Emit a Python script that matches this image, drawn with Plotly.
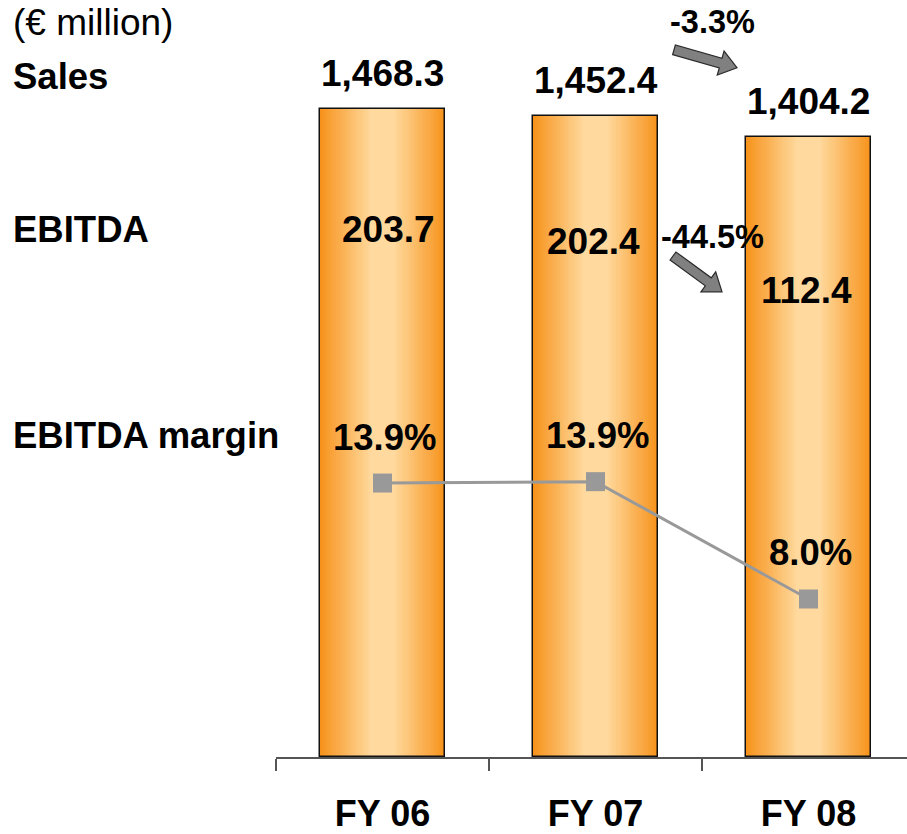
import plotly.graph_objects as go
import math

# ---------------- data ----------------
years = ["FY 06", "FY 07", "FY 08"]
sales = [1468.3, 1452.4, 1404.2]
ebitda = [203.7, 202.4, 112.4]
margin = [13.87, 13.94, 8.0]

# ---------------- layout constants (pixels) ----------------
OFF = 0                      # page body margin (removed by post_script)
W, H = 907 - OFF, 834 - OFF  # figure size
AXIS_Y = 760 - OFF           # x axis position inside figure
LEFT_X = 276 - OFF
L, R, T, B = LEFT_X, 0, 0, H - AXIS_Y
PW, PH = W - L - R, H - T - B
FONT = "Liberation Sans, Arial, Helvetica, sans-serif"
EDGE = (247, 147, 28)
CENTER = (255, 217, 157)
BAR_W = 0.59
N_LAYERS = 30


def px_x(p):
    # p: x coordinate in reference-window pixels
    return (p - OFF - L) / PW


def px_y(p):
    return (H - B - (p - OFF)) / PH


def mix(t):
    t = max(0.0, min(1.0, t / 0.8))
    c = [round(EDGE[i] + (CENTER[i] - EDGE[i]) * t) for i in range(3)]
    return f"rgb({c[0]},{c[1]},{c[2]})"


fig = go.Figure()

# gradient bars built by overlaying narrower bars
for i in range(N_LAYERS):
    frac = 1 - i / N_LAYERS
    fig.add_trace(go.Bar(
        x=years, y=sales, width=BAR_W * frac,
        marker=dict(color=mix(i / N_LAYERS), line=dict(width=0)),
        showlegend=False, hoverinfo="skip",
    ))
# outline on top
fig.add_trace(go.Bar(
    x=years, y=sales, width=BAR_W,
    marker=dict(color="rgba(0,0,0,0)", line=dict(color="#111111", width=1.5)),
    showlegend=False, hoverinfo="skip",
))

# EBITDA margin line
fig.add_trace(go.Scatter(
    x=years, y=margin, yaxis="y2", mode="lines+markers",
    line=dict(color="#999999", width=3),
    marker=dict(symbol="square", size=19, color="#999999"),
    showlegend=False, hoverinfo="skip",
))

ann = []
# left labels
left_labels = [("(€ million)", 23, False, 37), ("Sales", 77, True, 36.5),
               ("EBITDA", 230, True, 36.5), ("EBITDA margin", 437, True, 36.5)]
for txt, y, bold, sz in left_labels:
    ann.append(dict(x=px_x(11), y=px_y(y), xref="paper", yref="paper",
                    text=f"<b>{txt}</b>" if bold else txt, showarrow=False,
                    xanchor="left", yanchor="middle",
                    font=dict(family=FONT, size=sz, color="black")))

# sales labels above bars
for xc, v in zip(years, sales):
    ann.append(dict(x=xc, y=v, xref="x", yref="y", text=f"<b>{v:,.1f}</b>",
                    showarrow=False, yanchor="middle", yshift=35,
                    font=dict(family=FONT, size=37, color="black")))

# EBITDA labels
ebitda_y = [230, 242, 292]
ebitda_dx = [6, -2, -2]
for xc, v, yy, dx in zip(years, ebitda, ebitda_y, ebitda_dx):
    ann.append(dict(x=xc, y=px_y(yy), xref="x", yref="paper", text=f"<b>{v:.1f}</b>",
                    showarrow=False, yanchor="middle", xshift=dx,
                    font=dict(family=FONT, size=37, color="black")))

# margin labels
for xc, v in zip(years, margin):
    ann.append(dict(x=xc, y=v, xref="x", yref="y2", text=f"<b>{v:.1f}%</b>",
                    showarrow=False, yanchor="middle", yshift=46, xshift=2,
                    font=dict(family=FONT, size=36.5, color="black")))

# change labels
sales_chg = (sales[2] / sales[1] - 1) * 100
ebitda_chg = (ebitda[2] / ebitda[1] - 1) * 100
for txt, (xx, yy) in [(f"<b>{sales_chg:.1f}%</b>", (712, 22)),
                      (f"<b>{ebitda_chg:.1f}%</b>", (712, 238))]:
    ann.append(dict(x=px_x(xx), y=px_y(yy), xref="paper", yref="paper", text=txt,
                    showarrow=False, xanchor="center", yanchor="middle",
                    font=dict(family=FONT, size=32.5, color="black")))


def block_arrow(tail, tip, shaft=10, head_w=25, head_l=17):
    (x0, y0), (x1, y1) = tail, tip
    dx, dy = x1 - x0, y1 - y0
    ln = math.hypot(dx, dy)
    ux, uy = dx / ln, dy / ln
    nx, ny = -uy, ux
    bx, by = x1 - ux * head_l, y1 - uy * head_l
    pts = [
        (x0 + nx * shaft / 2, y0 + ny * shaft / 2),
        (bx + nx * shaft / 2, by + ny * shaft / 2),
        (bx + nx * head_w / 2, by + ny * head_w / 2),
        (x1, y1),
        (bx - nx * head_w / 2, by - ny * head_w / 2),
        (bx - nx * shaft / 2, by - ny * shaft / 2),
        (x0 - nx * shaft / 2, y0 - ny * shaft / 2),
    ]
    path = "M " + " L ".join(f"{px_x(px):.5f},{px_y(py):.5f}" for px, py in pts) + " Z"
    return dict(type="path", path=path, xref="paper", yref="paper",
                fillcolor="#808080", line=dict(color="#2a2a2a", width=1.2), layer="above")


shapes = [block_arrow((674, 50), (737, 68)), block_arrow((673, 257), (722, 293))]

fig.update_layout(
    width=W, height=H, autosize=False,
    margin=dict(l=L, r=R, t=T, b=B, pad=0),
    paper_bgcolor="white", plot_bgcolor="white",
    barmode="overlay", bargap=0,
    xaxis=dict(type="category", range=[-0.5, -0.5 + PW / 213.0],
               showline=True, linecolor="#555555", linewidth=1.5,
               ticks="outside", tickson="boundaries", ticklen=12,
               tickcolor="#555555", tickwidth=1.5,
               tickfont=dict(family=FONT, size=36, color="black"),
               tickvals=years, ticktext=[f"<b>{y}</b>" for y in years],
               ticklabelstandoff=24,
               showgrid=False, zeroline=False, fixedrange=True),
    yaxis=dict(range=[0, PH * 2.2555], visible=False, fixedrange=True),
    yaxis2=dict(range=[0, PH / 19.83], overlaying="y", visible=False, fixedrange=True),
    annotations=ann, shapes=shapes, showlegend=False,
)

fig.write_html(
    "out.html",
    config={"displayModeBar": False},
    post_script="document.body.style.margin='0';document.body.style.overflow='hidden';",
)
